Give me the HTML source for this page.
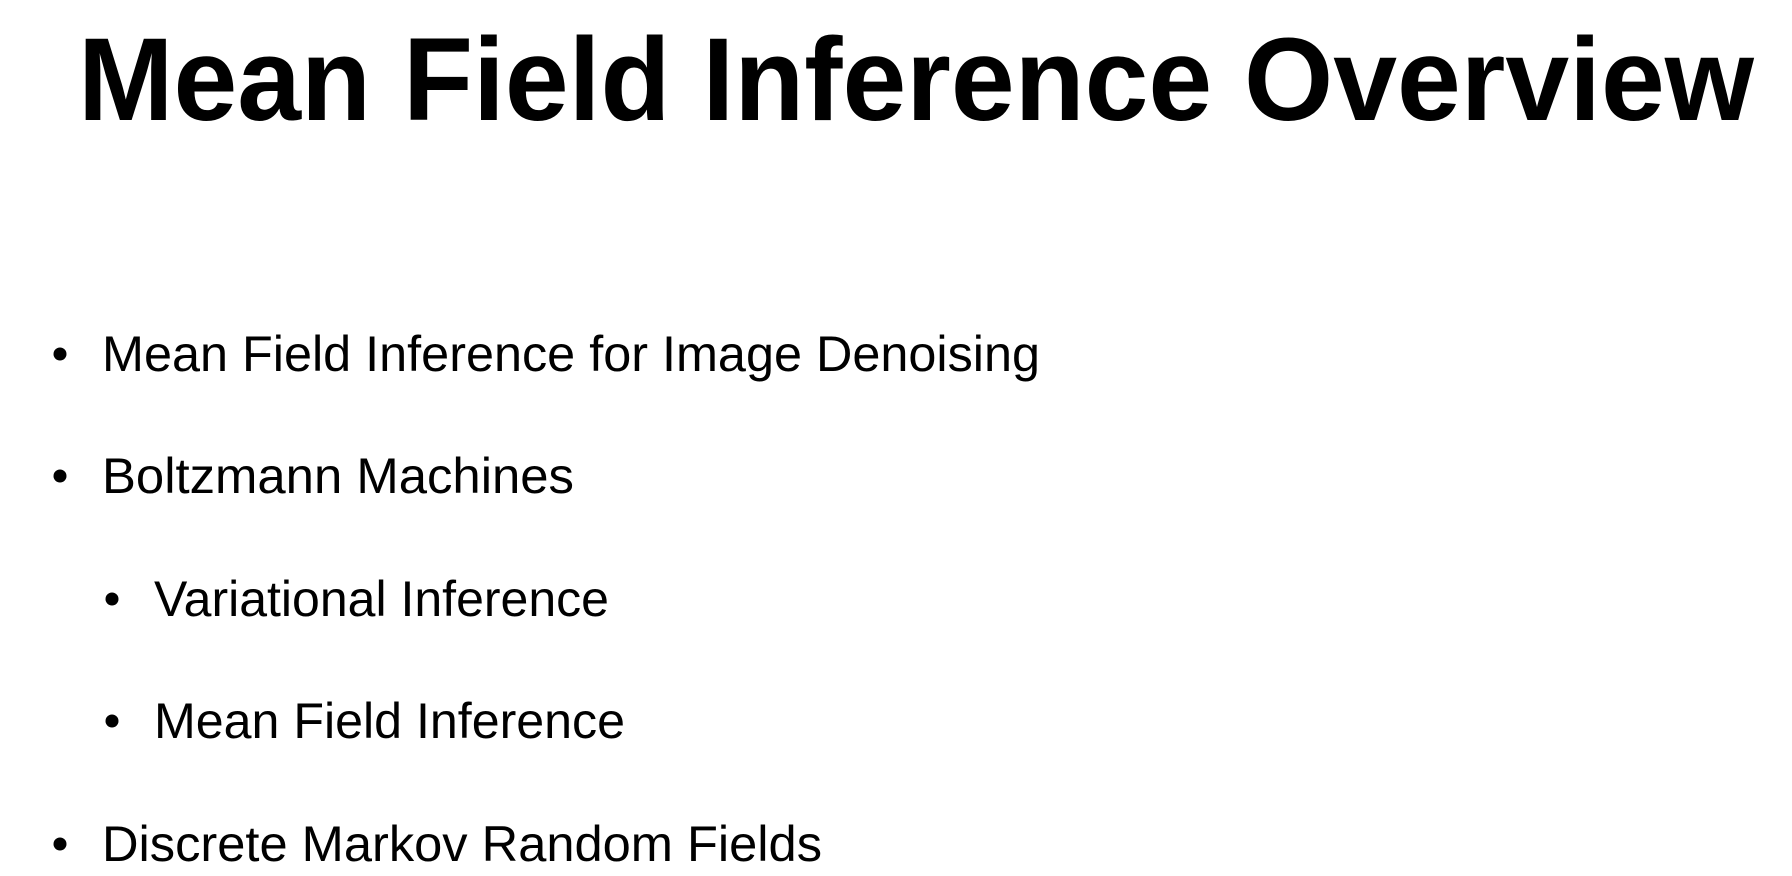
<!DOCTYPE html>
<html><head><meta charset="utf-8"><style>
html,body{margin:0;padding:0;background:#fff;width:1792px;height:876px;overflow:hidden}
svg{display:block}
text{font-family:"Liberation Sans",Arial,sans-serif;fill:#000}
</style></head><body>
<svg width="1792" height="876" viewBox="0 0 1792 876">
<text x="78" y="120" font-size="118" font-weight="bold" textLength="1676" lengthAdjust="spacingAndGlyphs">Mean Field Inference Overview</text>
<g font-size="50">
<circle cx="60" cy="354" r="6.5"/>
<text x="102" y="371" textLength="938" lengthAdjust="spacingAndGlyphs">Mean Field Inference for Image Denoising</text>
<circle cx="60" cy="476" r="6.5"/>
<text x="102" y="493" textLength="472" lengthAdjust="spacingAndGlyphs">Boltzmann Machines</text>
<circle cx="112" cy="599" r="6.5"/>
<text x="154" y="616" textLength="455" lengthAdjust="spacingAndGlyphs">Variational Inference</text>
<circle cx="112" cy="721" r="6.5"/>
<text x="154" y="738" textLength="471" lengthAdjust="spacingAndGlyphs">Mean Field Inference</text>
<circle cx="60" cy="844" r="6.5"/>
<text x="102" y="861" textLength="720" lengthAdjust="spacingAndGlyphs">Discrete Markov Random Fields</text>
</g>
</svg>
</body></html>
